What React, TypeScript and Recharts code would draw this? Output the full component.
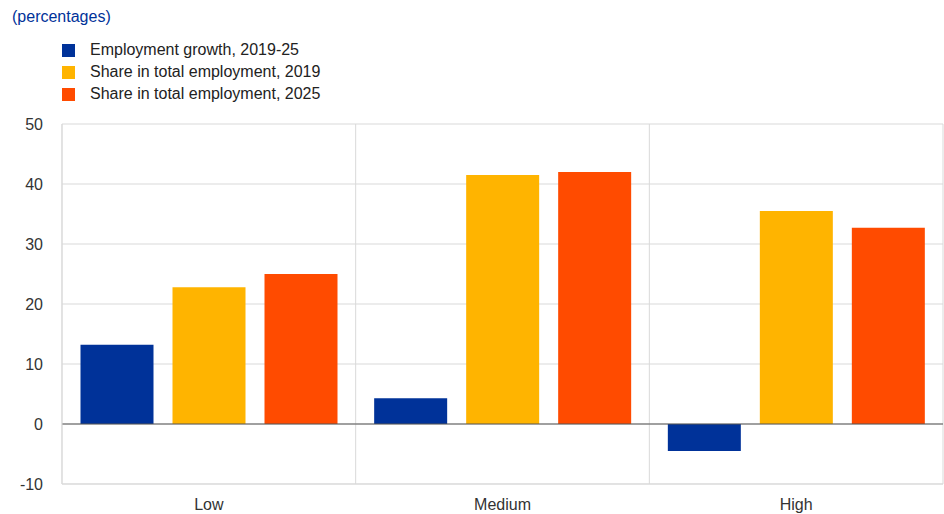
import React from 'react';
import { BarChart, Bar, XAxis, YAxis, CartesianGrid, ReferenceLine } from 'recharts';

const categories = ['Low', 'Medium', 'High'];
const employmentGrowth = [13.2, 4.3, -4.5];
const share2019 = [22.8, 41.5, 35.5];
const share2025 = [25.0, 42.0, 32.7];
const yTicks = [-10, 0, 10, 20, 30, 40, 50];

const series = [
  { key: 'growth', name: 'Employment growth, 2019-25', color: '#003299' },
  { key: 's2019', name: 'Share in total employment, 2019', color: '#FFB400' },
  { key: 's2025', name: 'Share in total employment, 2025', color: '#FF4B00' },
];

const data = categories.map((c, i) => ({
  name: c,
  growth: employmentGrowth[i],
  s2019: share2019[i],
  s2025: share2025[i],
}));

const font = 'Arial, "Liberation Sans", sans-serif';

export default function App() {
  return (
    <div style={{ position: 'absolute', left: 0, top: 0, width: 944, height: 514, background: '#fff', fontFamily: font }}>
      <div style={{ position: 'absolute', left: 12, top: 8, fontSize: 16, color: '#003299' }}>(percentages)</div>
      <div style={{ position: 'absolute', left: 62, top: 39 }}>
        {series.map((s) => (
          <div key={s.key} style={{ display: 'flex', alignItems: 'center', height: 22, fontSize: 16, color: '#222' }}>
            <span style={{ width: 13, height: 13, background: s.color, marginRight: 15 }} />
            {s.name}
          </div>
        ))}
      </div>
      <BarChart
        width={944}
        height={514}
        data={data}
        margin={{ top: 124, right: 1, bottom: 0, left: 4 }}
        barCategoryGap="6.3%"
        barGap={19}
      >
        <CartesianGrid
          stroke="#d9d9d9"
          verticalCoordinatesGenerator={({ offset }: any) => [
            offset.left,
            offset.left + offset.width / 3,
            offset.left + (2 * offset.width) / 3,
            offset.left + offset.width,
          ]}
        />
        <XAxis
          dataKey="name"
          height={30}
          axisLine={{ stroke: '#d9d9d9' }}
          tickLine={false}
          tickMargin={9}
          tick={{ fill: '#333', fontSize: 16, fontFamily: font }}
        />
        <YAxis
          domain={[-10, 50]}
          ticks={yTicks}
          width={58}
          axisLine={{ stroke: '#d9d9d9' }}
          tickLine={false}
          tickMargin={13}
          tick={{ fill: '#333', fontSize: 16, fontFamily: font }}
        />
        {series.map((s) => (
          <Bar key={s.key} dataKey={s.key} name={s.name} fill={s.color} isAnimationActive={false} />
        ))}
        <ReferenceLine y={0} stroke="#555" />
      </BarChart>
    </div>
  );
}
